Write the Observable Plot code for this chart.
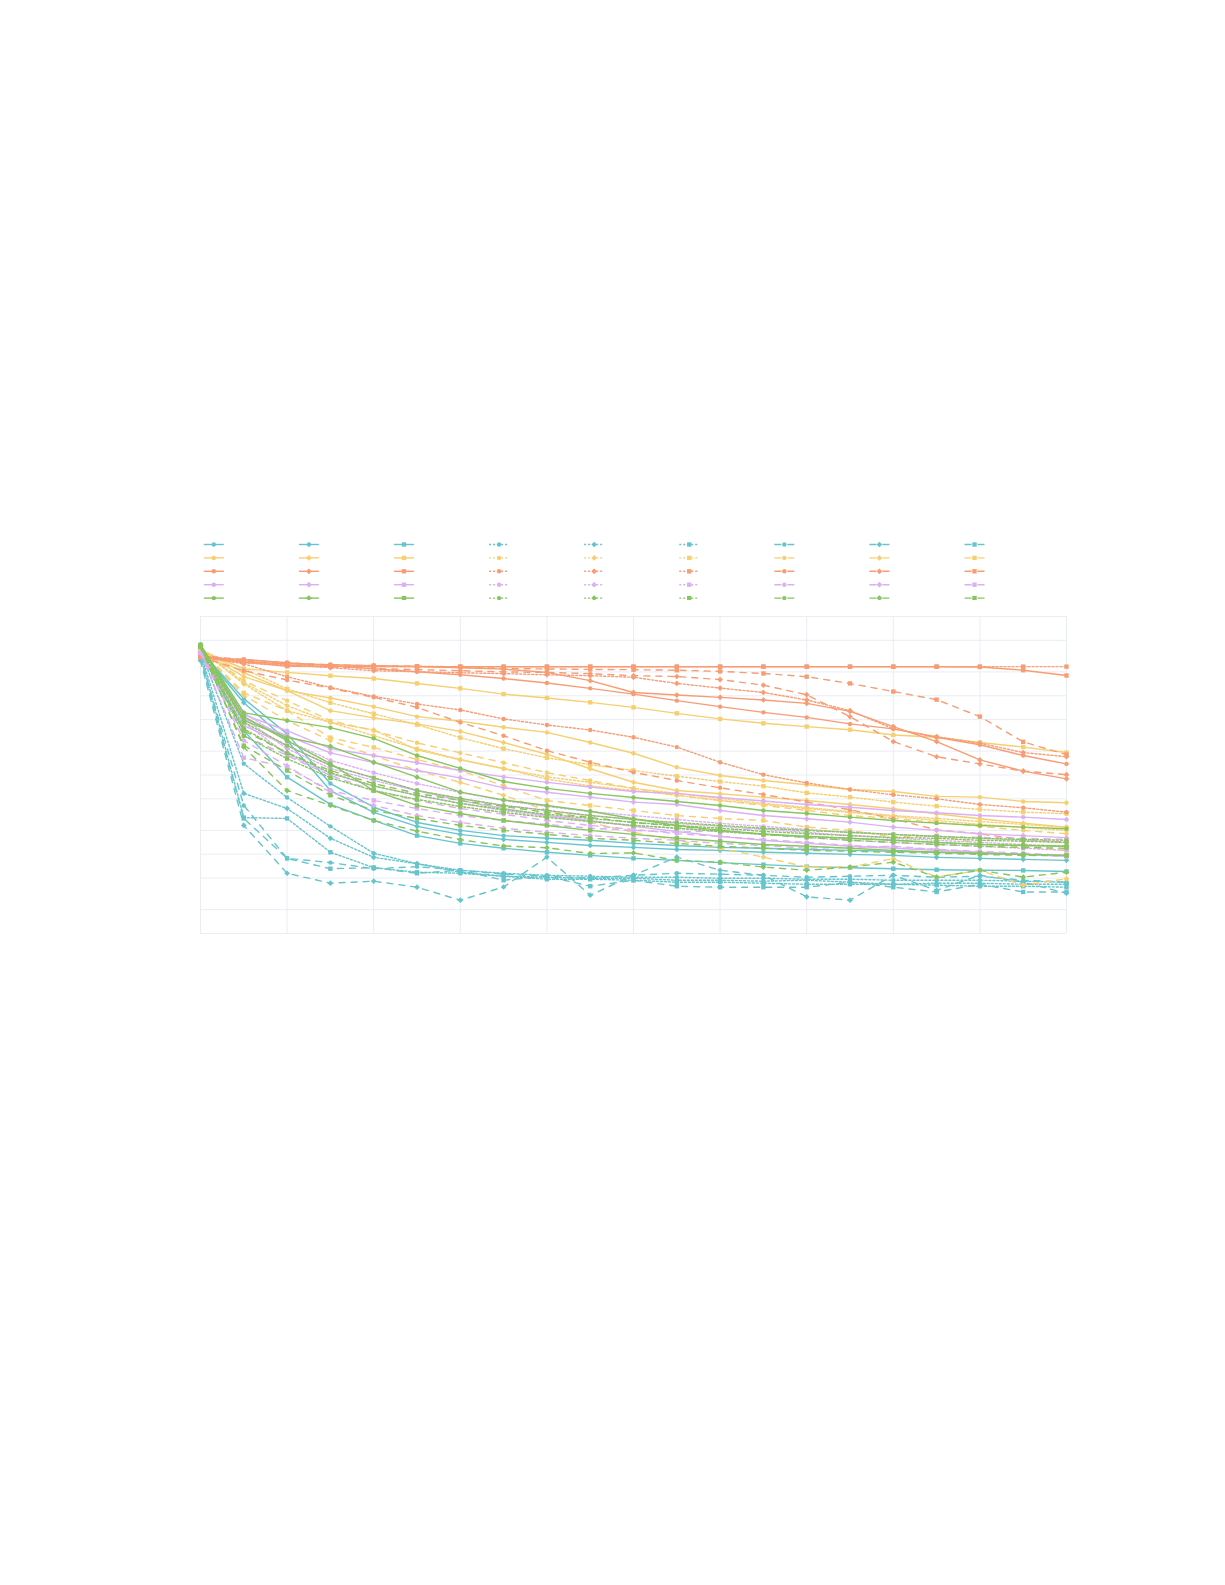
<!DOCTYPE html>
<html><head><meta charset="utf-8">
<script src="https://cdn.jsdelivr.net/npm/d3@7"></script>
<script src="https://cdn.jsdelivr.net/npm/@observablehq/plot@0.6"></script>
<style>
html,body{margin:0;padding:0;background:#fff;}
#page{position:relative;width:1225px;height:1585px;overflow:hidden;background:#fff;}
#legend{position:absolute;left:0;top:530px;}
#chart{position:absolute;left:0;top:600px;}
</style></head><body><div id="page"><div id="legend"></div><div id="chart"></div></div>
<script>
// x positions (step index)
const steps = [0,1,2,3,4,5,6,7,8,9,10,11,12,13,14,15,16,17,18,19,20];
// grid values
const xGrid = [0,2,4,6,8,10,12,14,16,18,20];
const yGrid = [1,0.5,0.2,0.1,0.05,0.02,0.01,0.005,0.002,0.001,0.0005,0.0002,0.0001];

// row colors (plotly Pastel)
const rowColors = ["rgb(102,197,204)","rgb(246,207,113)","rgb(248,156,116)","rgb(220,176,242)","rgb(135,197,95)"];
// column styles
const colDash = ["solid","solid","solid","dot","dot","dot","dash","dash","dash"];
const colSymbol = ["circle","diamond","square","circle","diamond","square","circle","diamond","square"];

// series values: each row = 9 series (solid circle, solid diamond, solid square, dot circle, dot diamond, dot square, dash circle, dash diamond, dash square)
const tealSeries = [
  [0.369,0.0919,0.0330,0.00780,0.00392,0.00252,0.00200,0.00172,0.00159,0.00150,0.00137,0.00129,0.00122,0.00119,0.00115,0.00112,0.00109,0.00106,0.00103,0.000997,0.000968],
  [0.369,0.0817,0.0272,0.00637,0.00337,0.00225,0.00178,0.00154,0.00141,0.00129,0.00122,0.00115,0.00112,0.00106,0.00103,0.000997,0.000968,0.000914,0.000887,0.000861,0.000838],
  [0.348,0.0363,0.00938,0.00425,0.00267,0.00172,0.00137,0.00119,0.00106,0.000968,0.000887,0.000838,0.000785,0.000740,0.000697,0.000677,0.000657,0.000638,0.000628,0.000625,0.000606],
  [0.369,0.0139,0.00520,0.00225,0.00103,0.000760,0.000628,0.000576,0.000543,0.000528,0.000513,0.000513,0.000498,0.000498,0.000484,0.000484,0.000470,0.000470,0.000470,0.000457,0.000444],
  [0.348,0.00586,0.00378,0.00159,0.000914,0.000760,0.000593,0.000528,0.000513,0.000498,0.000498,0.000470,0.000470,0.000457,0.000470,0.000444,0.000418,0.000431,0.000431,0.000418,0.000418],
  [0.330,0.00290,0.00283,0.00106,0.000677,0.000593,0.000576,0.000528,0.000484,0.000484,0.000470,0.000444,0.000444,0.000431,0.000418,0.000418,0.000418,0.000407,0.000395,0.000395,0.000384],
  [0.311,0.00413,0.000887,0.000785,0.000657,0.000697,0.000628,0.000560,0.000528,0.000498,0.000543,0.000576,0.000560,0.000543,0.000513,0.000528,0.000543,0.000513,0.000528,0.000470,0.000444],
  [0.277,0.00231,0.000576,0.000431,0.000457,0.000384,0.000263,0.000386,0.000920,0.000304,0.000543,0.000920,0.000628,0.000543,0.000290,0.000263,0.000543,0.000351,0.000543,0.000444,0.000322],
  [0.294,0.00283,0.000887,0.000657,0.000677,0.000576,0.000628,0.000470,0.000528,0.000395,0.000470,0.000395,0.000384,0.000384,0.000384,0.000444,0.000384,0.000334,0.000418,0.000334,0.000334]
];
const yellowSeries = [
  [0.369,0.174,0.116,0.0938,0.0729,0.0545,0.0476,0.0400,0.0345,0.0257,0.0188,0.0125,0.00986,0.00852,0.00752,0.00656,0.00619,0.00537,0.00526,0.00464,0.00447],
  [0.381,0.195,0.116,0.0649,0.0526,0.0441,0.0355,0.0257,0.0183,0.0120,0.00810,0.00637,0.00580,0.00526,0.00477,0.00425,0.00375,0.00325,0.00280,0.00247,0.00220],
  [0.369,0.219,0.197,0.179,0.165,0.143,0.124,0.105,0.0938,0.0826,0.0714,0.0600,0.0510,0.0449,0.0408,0.0373,0.0320,0.0299,0.0257,0.0225,0.0192],
  [0.381,0.146,0.0750,0.0463,0.0313,0.0215,0.0157,0.0121,0.00948,0.00808,0.00679,0.00586,0.00506,0.00439,0.00389,0.00346,0.00308,0.00283,0.00259,0.00238,0.00218],
  [0.381,0.141,0.0649,0.0461,0.0370,0.0208,0.0155,0.0120,0.00890,0.00727,0.00637,0.00555,0.00477,0.00425,0.00378,0.00337,0.00300,0.00267,0.00238,0.00218,0.00200],
  [0.381,0.219,0.122,0.0817,0.0593,0.0432,0.0296,0.0215,0.0165,0.0135,0.0114,0.00966,0.00827,0.00723,0.00595,0.00526,0.00455,0.00405,0.00368,0.00340,0.00325],
  [0.381,0.155,0.0867,0.0486,0.0363,0.0255,0.0190,0.0143,0.0107,0.00852,0.00679,0.00555,0.00477,0.00413,0.00357,0.00308,0.00283,0.00252,0.00225,0.00200,0.00182],
  [0.381,0.101,0.0486,0.0272,0.0176,0.0114,0.00808,0.00555,0.00357,0.00252,0.00189,0.00150,0.00119,0.000920,0.000689,0.000689,0.000880,0.000515,0.000628,0.000407,0.000490],
  [0.381,0.109,0.0649,0.0296,0.0223,0.0157,0.0114,0.00727,0.00477,0.00413,0.00357,0.00308,0.00283,0.00267,0.00220,0.00200,0.00165,0.00172,0.00136,0.00125,0.00112]
];
const orangeSeries = [
  [0.304,0.287,0.261,0.240,0.219,0.201,0.184,0.165,0.145,0.124,0.105,0.0867,0.0729,0.0617,0.0534,0.0441,0.0382,0.0299,0.0241,0.0176,0.0138],
  [0.304,0.267,0.253,0.246,0.240,0.234,0.226,0.217,0.197,0.155,0.110,0.102,0.0954,0.0885,0.0802,0.0636,0.0408,0.0264,0.0155,0.0112,0.00895],
  [0.311,0.265,0.236,0.234,0.233,0.233,0.232,0.232,0.232,0.232,0.232,0.232,0.232,0.232,0.232,0.232,0.232,0.232,0.231,0.210,0.180],
  [0.310,0.253,0.174,0.127,0.0983,0.0787,0.0662,0.0510,0.0428,0.0370,0.0299,0.0225,0.0145,0.0101,0.00795,0.00656,0.00563,0.00501,0.00425,0.00386,0.00340],
  [0.320,0.277,0.246,0.226,0.207,0.201,0.195,0.190,0.184,0.179,0.171,0.143,0.125,0.110,0.0885,0.0649,0.0382,0.0304,0.0252,0.0192,0.0170],
  [0.311,0.260,0.240,0.235,0.234,0.234,0.233,0.233,0.233,0.233,0.233,0.233,0.233,0.233,0.233,0.233,0.233,0.233,0.233,0.233,0.233],
  [0.310,0.207,0.158,0.125,0.0954,0.0714,0.0461,0.0313,0.0203,0.0145,0.0108,0.00852,0.00689,0.00568,0.00455,0.00365,0.00280,0.00203,0.00181,0.00153,0.00142],
  [0.320,0.275,0.245,0.232,0.220,0.214,0.207,0.200,0.197,0.190,0.179,0.175,0.160,0.136,0.103,0.0545,0.0264,0.0170,0.0138,0.0112,0.0101],
  [0.320,0.285,0.260,0.245,0.240,0.235,0.230,0.220,0.218,0.215,0.213,0.210,0.203,0.191,0.174,0.143,0.113,0.0893,0.0546,0.0262,0.0181]
];
const lavenderSeries = [
  [0.348,0.0576,0.0362,0.0215,0.0176,0.0143,0.0114,0.00948,0.00808,0.00705,0.00619,0.00586,0.00520,0.00469,0.00425,0.00392,0.00357,0.00334,0.00308,0.00294,0.00275],
  [0.348,0.0515,0.0313,0.0190,0.0143,0.0114,0.00921,0.00689,0.00607,0.00526,0.00455,0.00425,0.00357,0.00308,0.00280,0.00254,0.00220,0.00200,0.00181,0.00172,0.00162],
  [0.348,0.0420,0.0235,0.0132,0.00921,0.00637,0.00477,0.00378,0.00308,0.00267,0.00225,0.00194,0.00168,0.00150,0.00137,0.00126,0.00119,0.00112,0.00106,0.000997,0.000941],
  [0.348,0.0612,0.0272,0.0153,0.0107,0.00780,0.00603,0.00477,0.00401,0.00346,0.00308,0.00275,0.00245,0.00225,0.00206,0.00189,0.00178,0.00168,0.00159,0.00150,0.00141],
  [0.348,0.0515,0.0215,0.0121,0.00852,0.00637,0.00506,0.00413,0.00357,0.00308,0.00275,0.00245,0.00225,0.00206,0.00189,0.00172,0.00159,0.00150,0.00141,0.00133,0.00126],
  [0.348,0.0463,0.0181,0.0104,0.00727,0.00555,0.00439,0.00357,0.00300,0.00259,0.00231,0.00213,0.00194,0.00178,0.00163,0.00150,0.00141,0.00133,0.00126,0.00119,0.00112],
  [0.348,0.0313,0.0176,0.00986,0.00637,0.00477,0.00378,0.00320,0.00267,0.00231,0.00206,0.00182,0.00168,0.00154,0.00141,0.00129,0.00122,0.00115,0.00109,0.00103,0.000968],
  [0.348,0.0272,0.0130,0.00603,0.00413,0.00308,0.00252,0.00213,0.00189,0.00172,0.00159,0.00150,0.00137,0.00129,0.00119,0.00122,0.00126,0.00115,0.00106,0.000997,0.000941],
  [0.348,0.0165,0.0125,0.00637,0.00477,0.00378,0.00308,0.00267,0.00238,0.00213,0.00200,0.00189,0.00200,0.00213,0.00200,0.00189,0.00178,0.00168,0.00163,0.00159,0.00154]
];
const greenSeries = [
  [0.440,0.0612,0.0486,0.0396,0.0290,0.0176,0.0121,0.00827,0.00679,0.00586,0.00520,0.00464,0.00413,0.00357,0.00327,0.00294,0.00267,0.00247,0.00231,0.00220,0.00210],
  [0.440,0.0486,0.0299,0.0230,0.0145,0.00938,0.00607,0.00485,0.00413,0.00349,0.00280,0.00231,0.00200,0.00181,0.00168,0.00159,0.00150,0.00141,0.00133,0.00129,0.00126],
  [0.440,0.0545,0.0272,0.0139,0.00637,0.00413,0.00327,0.00267,0.00231,0.00200,0.00178,0.00159,0.00146,0.00133,0.00126,0.00119,0.00112,0.00106,0.00103,0.000997,0.000968],
  [0.415,0.0463,0.0235,0.0132,0.00921,0.00637,0.00506,0.00413,0.00357,0.00308,0.00275,0.00252,0.00231,0.00213,0.00200,0.00189,0.00178,0.00168,0.00159,0.00154,0.00150],
  [0.415,0.0384,0.0190,0.0107,0.00727,0.00555,0.00439,0.00368,0.00320,0.00283,0.00252,0.00231,0.00213,0.00194,0.00182,0.00172,0.00163,0.00159,0.00150,0.00146,0.00141],
  [0.415,0.0313,0.0161,0.00921,0.00637,0.00492,0.00401,0.00337,0.00291,0.00259,0.00231,0.00213,0.00194,0.00178,0.00168,0.00159,0.00150,0.00141,0.00133,0.00129,0.00126],
  [0.415,0.0363,0.0190,0.0114,0.00780,0.00586,0.00477,0.00401,0.00337,0.00291,0.00252,0.00225,0.00200,0.00178,0.00163,0.00150,0.00141,0.00133,0.00126,0.00122,0.00119],
  [0.415,0.0225,0.00637,0.00413,0.00267,0.00196,0.00153,0.00127,0.00121,0.00102,0.00104,0.000838,0.000795,0.000689,0.000628,0.000689,0.000795,0.000515,0.000628,0.000515,0.000593],
  [0.415,0.0235,0.0114,0.00555,0.00357,0.00283,0.00231,0.00200,0.00178,0.00159,0.00150,0.00137,0.00126,0.00119,0.00112,0.00109,0.00106,0.00103,0.000997,0.000968,0.000960]
];
const rows = [tealSeries, yellowSeries, orangeSeries, lavenderSeries, greenSeries];

// ---- styling helpers ----
const LW = 1.4;
const dashArray = {solid: null, dot: "2,2", dash: "6,6"};
const diamondSym = {draw(ctx, size){ const r = Math.sqrt(size/Math.PI)*1.3; ctx.moveTo(r,0); ctx.lineTo(0,r); ctx.lineTo(-r,0); ctx.lineTo(0,-r); ctx.closePath(); }};
const squareSym = {draw(ctx, size){ const r = Math.sqrt(size/Math.PI); ctx.rect(-r,-r,2*r,2*r); }};
const symOf = s => s === "diamond" ? diamondSym : s === "square" ? squareSym : "circle";
const R = 2.2;

// ---- main chart ----
const marks = [
  Plot.ruleX(xGrid, {stroke: "#E6EBF3", strokeWidth: 0.9}),
  Plot.ruleY(yGrid, {stroke: "#E6EBF3", strokeWidth: 0.9})
];
rows.forEach((series, r) => {
  series.forEach((vals, c) => {
    const data = vals.map((v, i) => ({x: steps[i], y: v}));
    const lineOpts = {x: "x", y: "y", stroke: rowColors[r], strokeWidth: LW, strokeLinejoin: "round"};
    if (dashArray[colDash[c]]) lineOpts.strokeDasharray = dashArray[colDash[c]];
    marks.push(Plot.line(data, lineOpts));
    marks.push(Plot.dot(data, {x: "x", y: "y", r: R, symbol: symOf(colSymbol[c]), fill: rowColors[r], stroke: "none"}));
  });
});

const chart = Plot.plot({
  width: 1225, height: 345,
  marginLeft: 200, marginRight: 159, marginTop: 16, marginBottom: 12,
  style: {background: "#fff", overflow: "visible"},
  x: {domain: [0, 20], axis: null},
  y: {type: "log", domain: [0.0001, 1], axis: null},
  marks
});
document.getElementById("chart").appendChild(chart);

// ---- legend (no text labels in the reference) ----
const legendItems = [];
rowColors.forEach((col, r) => colDash.forEach((d, c) => legendItems.push({row: r, col: c, color: col, dash: d, symbol: colSymbol[c]})));
const legMarks = [];
legendItems.forEach(it => {
  const o = {x1: d => d.col - 0.105, x2: d => d.col + 0.105, y1: "row", y2: "row", stroke: it.color, strokeWidth: LW};
  if (it.dash === "dot") { o.strokeDasharray = "2,2"; }
  if (it.dash === "dash") { o.strokeDasharray = "7,6"; }
  legMarks.push(Plot.link([it], o));
  legMarks.push(Plot.dot([it], {x: "col", y: "row", r: R, symbol: symOf(it.symbol), fill: it.color, stroke: "none"}));
});
const legend = Plot.plot({
  width: 1225, height: 80,
  style: {background: "#fff", overflow: "visible"},
  x: {domain: [0, 8], range: [213.3, 974], axis: null},
  y: {domain: [0, 4], range: [14, 67.6], axis: null},
  marks: legMarks
});
document.getElementById("legend").appendChild(legend);
</script>
</body></html>
